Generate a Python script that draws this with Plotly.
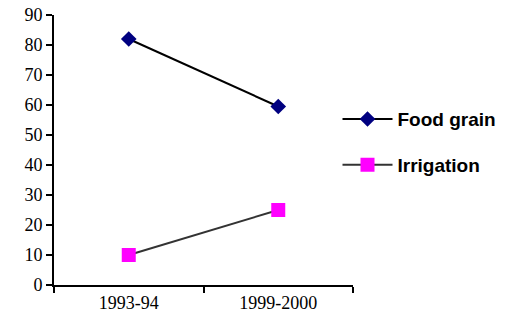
import plotly.graph_objects as go

categories = ["1993-94", "1999-2000"]
food_grain = [82, 59.5]
irrigation = [10, 25]
y_ticks = [0, 10, 20, 30, 40, 50, 60, 70, 80, 90]

fig = go.Figure()
fig.add_trace(go.Scatter(
    x=categories, y=food_grain, name="Food grain", mode="lines+markers",
    line=dict(color="#000000", width=2),
    marker=dict(symbol="diamond", size=12, color="#000080", line=dict(width=0)),
    legendgroup="a",
))
fig.add_trace(go.Scatter(
    x=categories, y=irrigation, name="Irrigation", mode="lines+markers",
    line=dict(color="#333333", width=2),
    marker=dict(symbol="square", size=14, color="#FF00FF", line=dict(width=0)),
    legendgroup="b",
))

fig.update_layout(
    width=513, height=324,
    margin=dict(l=54, r=159, t=15, b=39),
    paper_bgcolor="white", plot_bgcolor="white",
    showlegend=True,
    legend=dict(
        x=0.945, y=0.529, xanchor="left", yanchor="middle",
        font=dict(family="Liberation Sans, Arial", size=19, color="black", weight="bold"),
        tracegroupgap=18, itemwidth=50, bgcolor="rgba(0,0,0,0)",
    ),
    xaxis=dict(
        type="category", range=[-0.5, 1.5], showgrid=False,
        showline=True, linecolor="black", linewidth=2,
        ticks="outside", tickson="boundaries", ticklen=6, tickcolor="black", tickwidth=2,
        tickfont=dict(family="Liberation Serif, Times New Roman", size=18, color="black"),
        zeroline=False, automargin=False,
    ),
    yaxis=dict(
        range=[0, 90], tickvals=y_ticks, showgrid=False,
        showline=True, linecolor="black", linewidth=2,
        ticks="outside", ticklen=6, tickcolor="black", tickwidth=2,
        tickfont=dict(family="Liberation Serif, Times New Roman", size=18, color="black"),
        zeroline=False, automargin=False,
    ),
)

fig.write_html("out.html", config={"displayModeBar": False},
               post_script="document.body.style.margin='0';")
